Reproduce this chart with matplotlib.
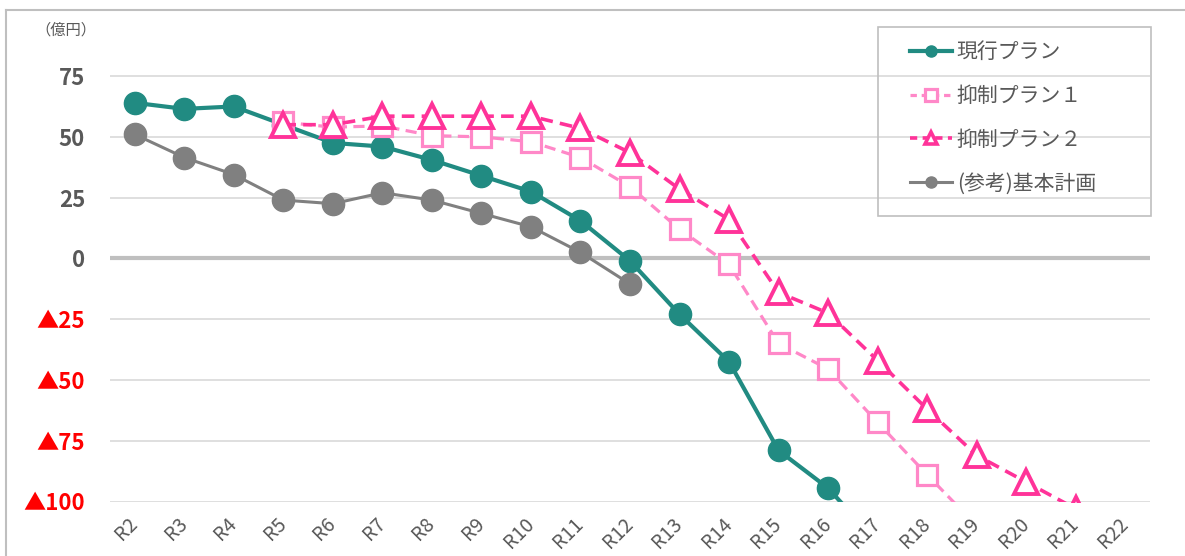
import matplotlib
matplotlib.use('Agg')
import matplotlib.pyplot as plt
from matplotlib.lines import Line2D
from matplotlib.patches import Rectangle
import numpy as np

plt.rcParams['font.family'] = ['Noto Sans CJK JP', 'DejaVu Sans']

nan = np.nan

# データ（億円）
years = ['R2', 'R3', 'R4', 'R5', 'R6', 'R7', 'R8', 'R9', 'R10', 'R11', 'R12',
         'R13', 'R14', 'R15', 'R16', 'R17', 'R18', 'R19', 'R20', 'R21', 'R22']
current_plan = [64, 61.5, 62.5, 55, 47.5, 46, 40.5, 34, 27.5, 15.5, -1,
                -23, -42.5, -79, -94.5, -117, nan, nan, nan, nan, nan]
plan1 = [nan, nan, nan, 56, 54, 54.5, 50.5, 50, 48, 41.5, 29.5,
         12, -2.5, -35, -45.5, -67.5, -89, -110, nan, nan, nan]
plan2 = [nan, nan, nan, 55, 55, 58.5, 58.5, 58.5, 58.5, 53.5, 43.5,
         28.5, 16, -14, -22.5, -42, -62, -81, -92, -103, nan]
base_plan = [51, 41.5, 34.5, 24, 22.5, 27, 24, 18.5, 13, 2.5, -10.5,
             nan, nan, nan, nan, nan, nan, nan, nan, nan, nan]

series_names = ['現行プラン', '抑制プラン１', '抑制プラン２', '(参考)基本計画']
y_ticks = [75, 50, 25, 0, -25, -50, -75, -100]
y_labels = ['75', '50', '25', '0', '▲25', '▲50', '▲75', '▲100']

teal = '#218B82'
pink1 = '#FF88C8'
pink2 = '#FF3399'
gray = '#808080'
txt = '#595959'

fig = plt.figure(figsize=(11.85, 5.56), dpi=100)
ax = fig.add_axes([110 / 1185, 54.5 / 556, 1040 / 1185, 486.2 / 556])

x = np.arange(len(years))

# グリッド
for v in y_ticks:
    if v == 0:
        ax.axhline(v, color='#BFBFBF', lw=3, zorder=1)
    else:
        ax.axhline(v, color='#D9D9D9', lw=1.2, zorder=1)

ax.plot(x, current_plan, color=teal, lw=3, marker='o', ms=16, zorder=3)
ax.plot(x, plan1, color=pink1, lw=2.3, ls=(0, (3.5, 2)), marker='s', ms=14,
        mfc='white', mec=pink1, mew=2.3, zorder=4)
ax.plot(x, plan2, color=pink2, lw=2.6, ls=(0, (3.5, 2)), marker='^', ms=17,
        mfc='white', mec=pink2, mew=2.8, zorder=5)
ax.plot(x, base_plan, color=gray, lw=2.2, marker='o', ms=16, zorder=6)

ax.set_xlim(-0.5, len(years) - 0.5)
ax.set_ylim(-100, 100)

ax.set_yticks(y_ticks)
ax.set_yticklabels(y_labels, fontsize=16, fontweight='bold')
for lab, v in zip(ax.get_yticklabels(), y_ticks):
    lab.set_color('#FF0000' if v < 0 else txt)

ax.set_xticks(x)
ax.set_xticklabels(years, fontsize=14, color=txt, rotation=45,
                   ha='right', va='center', rotation_mode='anchor')
ax.tick_params(axis='both', length=0)
ax.tick_params(axis='y', pad=18)
ax.tick_params(axis='x', pad=14)

for s in ax.spines.values():
    s.set_visible(False)

# 単位
fig.text(35 / 1185, 1 - 30 / 556, '（億円）', fontsize=11, color=txt, va='center')

# 凡例
handles = [
    Line2D([], [], color=teal, lw=3, marker='o', ms=8),
    Line2D([], [], color=pink1, lw=2.3, ls=(0, (2, 1.5)), marker='s', ms=8,
           mfc='white', mec=pink1, mew=2.3),
    Line2D([], [], color=pink2, lw=2.6, ls=(0, (2, 1.5)), marker='^', ms=9,
           mfc='white', mec=pink2, mew=2.6),
    Line2D([], [], color=gray, lw=2.2, marker='o', ms=8),
]
leg = fig.legend(handles, series_names, loc='upper left',
                 bbox_to_anchor=(910 / 1185, 1 - 41 / 556), frameon=False,
                 fontsize=15, labelcolor=txt, handlelength=2.0,
                 handletextpad=0.25, labelspacing=1.05, borderpad=0,
                 borderaxespad=0)
fig.add_artist(Rectangle((878 / 1185, 1 - 216 / 556), 273 / 1185, 189 / 556,
                         transform=fig.transFigure, fill=False,
                         edgecolor='#BFBFBF', lw=1.2))

# 外枠
fig.add_artist(Line2D([6 / 1185, 6 / 1185], [0, 1 - 10 / 556],
                      transform=fig.transFigure, color='#BFBFBF', lw=1.5))
fig.add_artist(Line2D([6 / 1185, 1], [1 - 10 / 556, 1 - 10 / 556],
                      transform=fig.transFigure, color='#BFBFBF', lw=1.5))

plt.savefig('out.png', dpi=100)
